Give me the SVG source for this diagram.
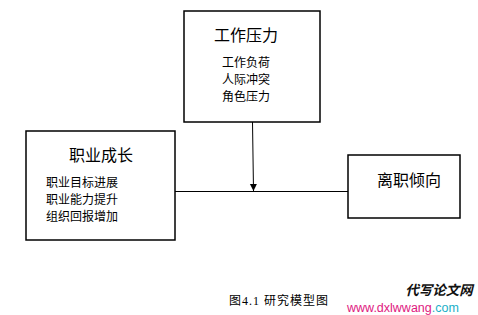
<svg xmlns="http://www.w3.org/2000/svg" width="478" height="315" viewBox="0 0 478 315">
<defs>
<marker id="arr" viewBox="0 0 10 10" refX="10" refY="5" markerWidth="7" markerHeight="8" markerUnits="userSpaceOnUse" orient="auto">
<path d="M0,0 L10,5 L0,10 z" fill="#000"/>
</marker>
</defs>
<style>
.box{fill:#fff;stroke:#000;stroke-width:1.5}
.t{font-family:"Liberation Serif","Noto Sans CJK SC",serif;fill:#000}
.title{font-size:16px;text-anchor:middle}
.item{font-size:12px}
.line{stroke:#000;stroke-width:1;fill:none}
</style>
<rect width="478" height="315" fill="#fff"/>
<g id="connectors">
<line class="line" x1="175" y1="191.5" x2="348" y2="191.5" stroke="#444"/>
<line class="line" x1="252.5" y1="122" x2="253.5" y2="191" marker-end="url(#arr)"/>
</g>
<g id="node-pressure">
<rect class="box" x="184" y="11" width="136" height="111"/>
<text class="t title" x="246" y="41">工作压力</text>
<text class="t item" x="222" y="67">工作负荷</text>
<text class="t item" x="222" y="84">人际冲突</text>
<text class="t item" x="222" y="101">角色压力</text>
</g>
<g id="node-growth">
<rect class="box" x="26" y="131" width="149" height="109"/>
<text class="t title" x="101" y="161">职业成长</text>
<text class="t item" x="46" y="187">职业目标进展</text>
<text class="t item" x="46" y="204">职业能力提升</text>
<text class="t item" x="46" y="221">组织回报增加</text>
</g>
<g id="node-turnover">
<rect class="box" x="348" y="155" width="112" height="63"/>
<text class="t title" x="409" y="186">离职倾向</text>
</g>
<text class="t" x="229" y="305" font-size="12" letter-spacing="1">图4.1 研究模型图</text>
<text x="439" y="295" font-family="'Noto Sans CJK SC',sans-serif" font-size="13.5" font-weight="bold" font-style="italic" text-anchor="middle" fill="#111">代写论文网</text>
<text x="347" y="312" font-family="'Liberation Sans',sans-serif" font-size="12.5" fill="#e0187f">www.dxlwwang<tspan fill="#1ab0c8">.com</tspan></text>
</svg>
